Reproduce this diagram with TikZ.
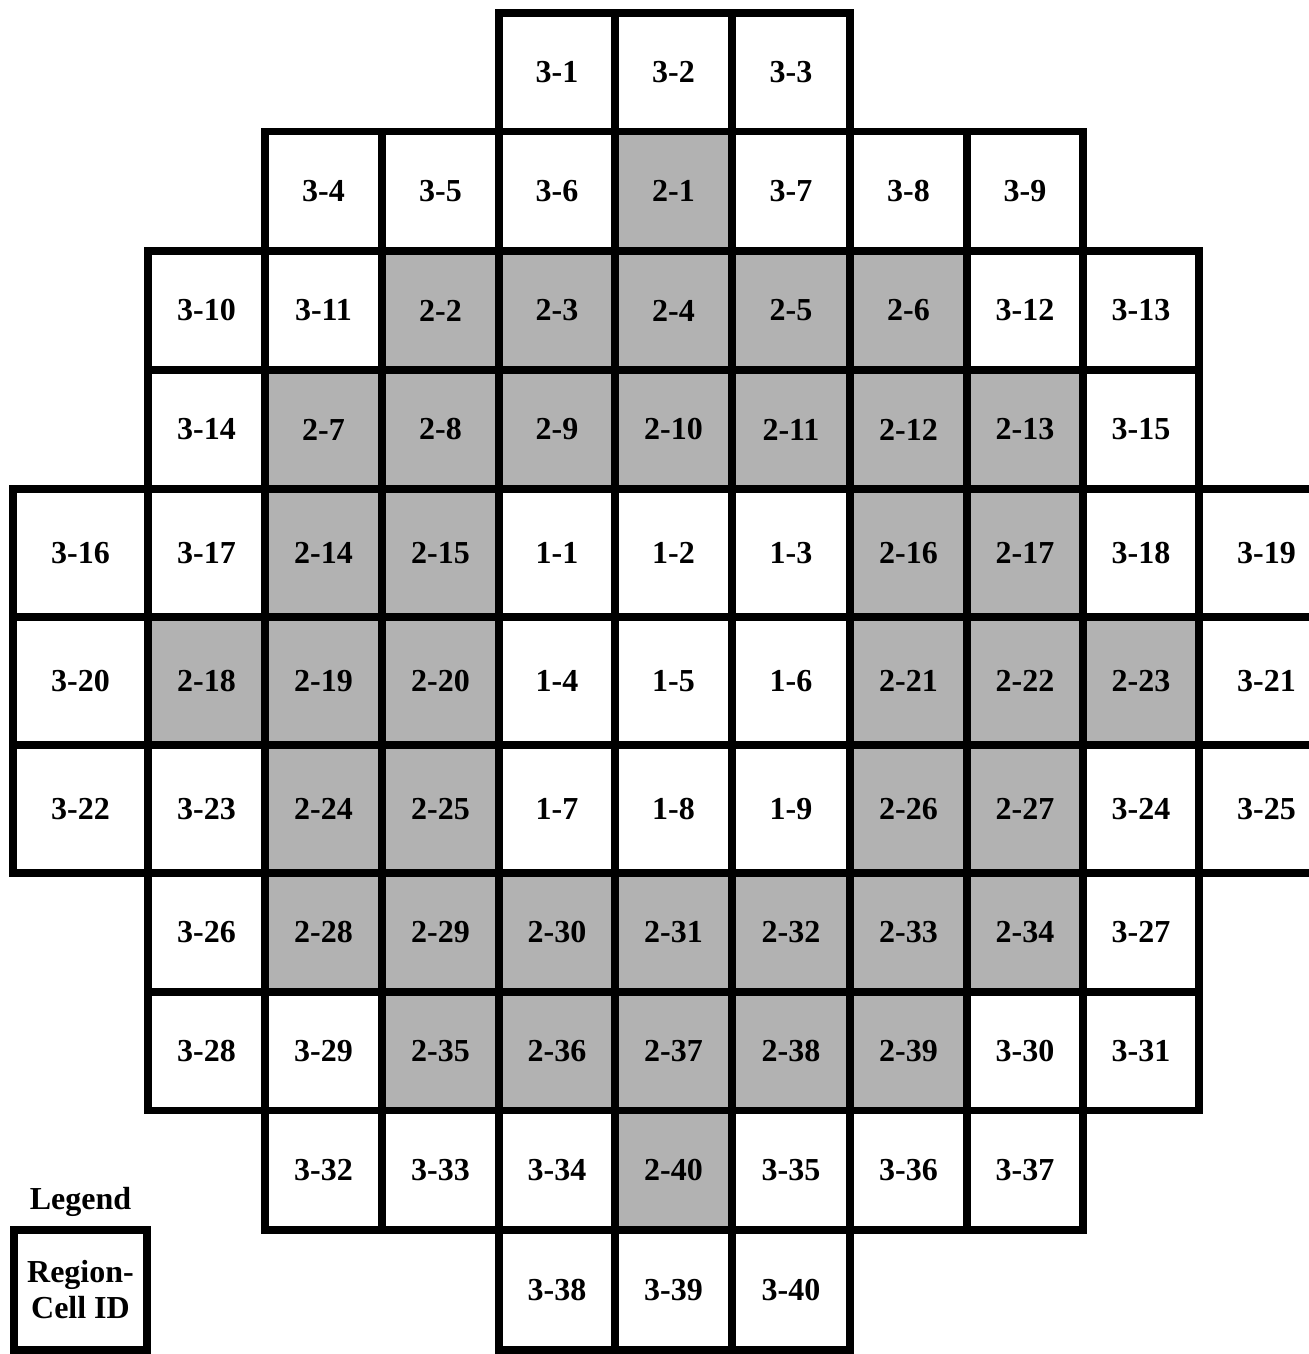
\documentclass[tikz,border=0pt]{standalone}
\usepackage{fontspec}
\setmainfont{Liberation Serif}

\begin{document}
\begin{tikzpicture}[
    x=0.5pt, y=-0.5pt,
    cell/.style={rectangle, draw, line width=3.85pt, inner sep=0pt, font=\fontsize{16}{18}\selectfont\bfseries},
    reg1/.style={cell},
    reg2/.style={cell, fill=black!30},
    reg3/.style={cell},
    title/.style={font=\fontsize{16}{18}\selectfont\bfseries},
]
\useasboundingbox (0,0) rectangle (1308,1354);

% Grid lines (pixels)
\def\xs{{13,148,265,382,499,615,732,850,967,1083,1199,1334}}
\def\ys{{13,131.5,251,370,489,617,745,873,992,1110.5,1230,1350}}

% --- Core map: row / first column / region-cell ids ---
\foreach \row/\first/\ids in {
    0/4/{3/1,3/2,3/3},
    1/2/{3/4,3/5,3/6,2/1,3/7,3/8,3/9},
    2/1/{3/10,3/11,2/2,2/3,2/4,2/5,2/6,3/12,3/13},
    3/1/{3/14,2/7,2/8,2/9,2/10,2/11,2/12,2/13,3/15},
    4/0/{3/16,3/17,2/14,2/15,1/1,1/2,1/3,2/16,2/17,3/18,3/19},
    5/0/{3/20,2/18,2/19,2/20,1/4,1/5,1/6,2/21,2/22,2/23,3/21},
    6/0/{3/22,3/23,2/24,2/25,1/7,1/8,1/9,2/26,2/27,3/24,3/25},
    7/1/{3/26,2/28,2/29,2/30,2/31,2/32,2/33,2/34,3/27},
    8/1/{3/28,3/29,2/35,2/36,2/37,2/38,2/39,3/30,3/31},
    9/2/{3/32,3/33,3/34,2/40,3/35,3/36,3/37},
    10/4/{3/38,3/39,3/40}}{
  \foreach \g/\n [count=\k from 0] in \ids {
    \pgfmathtruncatemacro\col{\first+\k}
    \pgfmathtruncatemacro\nextcol{\col+1}
    \pgfmathtruncatemacro\nextrow{\row+1}
    \pgfmathsetmacro\xa{\xs[\col]}
    \pgfmathsetmacro\xb{\xs[\nextcol]}
    \pgfmathsetmacro\ya{\ys[\row]}
    \pgfmathsetmacro\yb{\ys[\nextrow]}
    \pgfmathsetmacro\cellw{(\xb-\xa)/2}
    \pgfmathsetmacro\cellh{(\yb-\ya)/2}
    \node[reg\g, minimum width=\cellw pt, minimum height=\cellh pt] (c\g-\n)
      at ({(\xa+\xb)/2},{(\ya+\yb)/2}) {\g-\n};
  }
}

% --- Legend ---
\node[title, anchor=base] (legendtitle) at (80.5,1209) {Legend};
\node[cell, align=center, minimum width=66.5pt, minimum height=60pt] (legend) at (80.5,1290) {Region-\\Cell ID};

\end{tikzpicture}
\end{document}
